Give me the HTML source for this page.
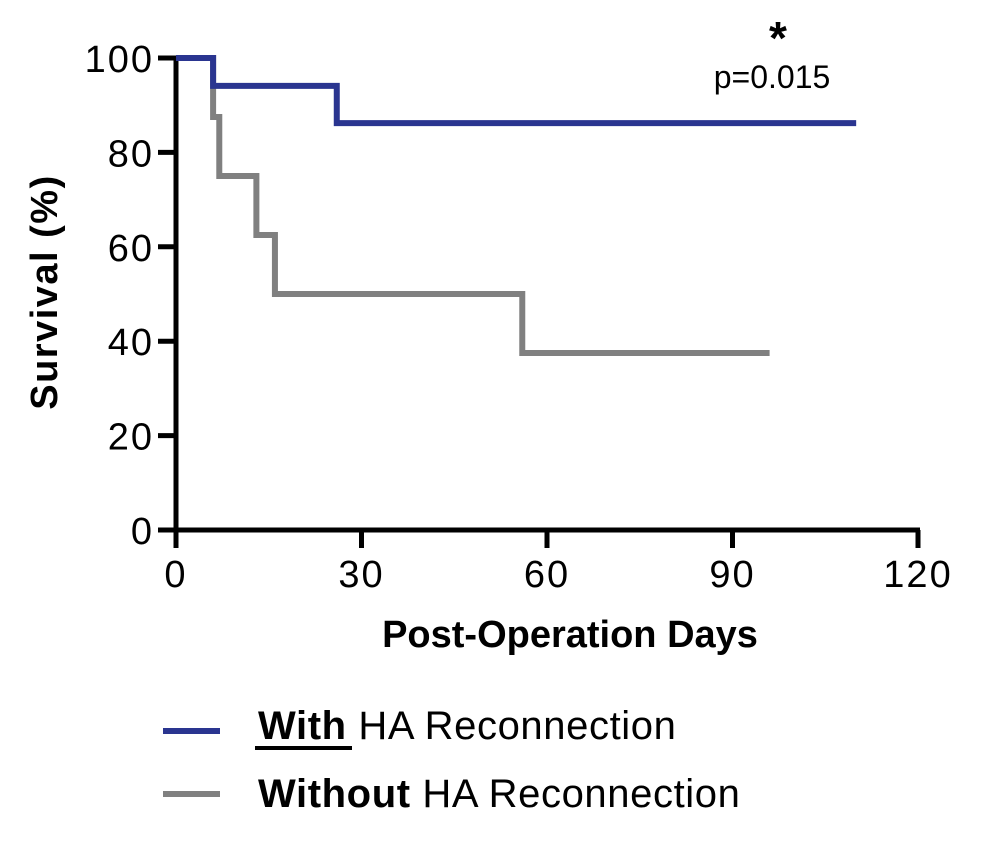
<!DOCTYPE html>
<html><head><meta charset="utf-8"><style>
body{margin:0;background:#fff;width:1000px;height:848px;overflow:hidden}
text{font-family:"Liberation Sans",sans-serif}
</style></head><body>
<svg id="chart" width="1000" height="848" xmlns="http://www.w3.org/2000/svg">
<g id="axes"></g>
<g id="series"></g>
<text x="778" y="54" font-size="46" font-weight="bold" text-anchor="middle">*</text>
<text x="772" y="88" font-size="32" text-anchor="middle">p=0.015</text>
<text x="570" y="647" font-size="38" font-weight="bold" text-anchor="middle">Post-Operation Days</text>
<text transform="translate(57,292) rotate(-90)" font-size="38" font-weight="bold" text-anchor="middle" letter-spacing="1.5">Survival (%)</text>
<g>
<line x1="163" y1="731" x2="220" y2="731" stroke="#2a3590" stroke-width="6"/>
<text x="258" y="739" font-size="40" letter-spacing="0.6"><tspan font-weight="bold">With</tspan> HA Reconnection</text>
<line x1="255" y1="748" x2="352" y2="748" stroke="#000" stroke-width="4"/>
</g>
<g>
<line x1="163" y1="794" x2="220" y2="794" stroke="#808080" stroke-width="6"/>
<text x="258" y="807" font-size="40" letter-spacing="0.6"><tspan font-weight="bold">Without</tspan> HA Reconnection</text>
</g>
</svg>
<script>
const xTicks=[0,30,60,90,120];
const yTicks=[0,20,40,60,80,100];
const withTimes=[0,6,26,110];
const withSurv=[100,94.1,86.2,86.2];
const withoutTimes=[0,6,7,13,16,56,96];
const withoutSurv=[100,87.5,75,62.5,50,37.5,37.5];
const X0=176,X1=918,Y0=530,Y1=58;
const xs=v=>X0+(v-0)/120*(X1-X0);
const ys=v=>Y0-(v/100)*(Y0-Y1);
const NS="http://www.w3.org/2000/svg";
const ax=document.getElementById('axes');
function mk(t,a,p){const e=document.createElementNS(NS,t);for(const k in a)e.setAttribute(k,a[k]);p.appendChild(e);return e;}
const xa=mk('line',{x1:X0-2,y1:Y0,x2:X1+2,y2:Y0,stroke:'#000','stroke-width':5},ax);


const ya=mk('line',{x1:X0,y1:Y0+2,x2:X0,y2:Y1-2,stroke:'#000','stroke-width':5},ax);


xTicks.forEach(v=>{
 const t=mk('line',{x1:xs(v),y1:Y0,x2:xs(v),y2:Y0+18,stroke:'#000','stroke-width':5},ax);
 
 
 const l=mk('text',{x:xs(v),y:Y0+57,'font-size':38,'text-anchor':'middle','letter-spacing':2},ax);l.textContent=v;
 
 
});
yTicks.forEach(v=>{
 const t=mk('line',{x1:X0-18,y1:ys(v),x2:X0,y2:ys(v),stroke:'#000','stroke-width':5},ax);
 
 
 const l=mk('text',{x:X0-22,y:ys(v)+14,'font-size':38,'text-anchor':'end','letter-spacing':2},ax);l.textContent=v;
 
 
});
function stepPath(T,S){let d='M'+xs(T[0])+','+ys(S[0]);for(let i=1;i<T.length;i++){d+=' H'+xs(T[i])+' V'+ys(S[i]);}return d;}
const sg=document.getElementById('series');
const p2=mk('path',{d:stepPath(withoutTimes,withoutSurv),fill:'none',stroke:'#808080','stroke-width':6},sg);


const p1=mk('path',{d:stepPath(withTimes,withSurv),fill:'none',stroke:'#2a3590','stroke-width':6},sg);


</script>
</body></html>
